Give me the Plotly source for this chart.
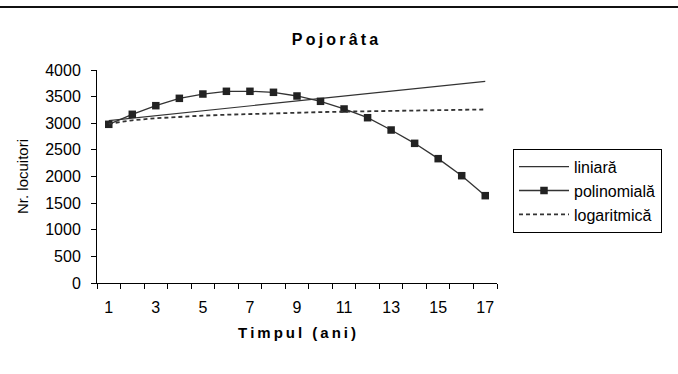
import plotly.graph_objects as go

years = list(range(1, 18))
x_labels = ["1", "3", "5", "7", "9", "11", "13", "15", "17"]
x_label_pos = [1, 3, 5, 7, 9, 11, 13, 15, 17]

liniara = [3050, 3096, 3142, 3188, 3234, 3280, 3326, 3372, 3418, 3464,
           3510, 3556, 3602, 3648, 3694, 3740, 3786]
polinomiala = [2980, 3168, 3330, 3468, 3549, 3600, 3600, 3581, 3512, 3412,
               3268, 3104, 2873, 2623, 2335, 2015, 1640]
logaritmica = [2990, 3056, 3094, 3122, 3143, 3160, 3175, 3188, 3199, 3209,
               3218, 3226, 3234, 3241, 3247, 3253, 3259]

y_ticks = [0, 500, 1000, 1500, 2000, 2500, 3000, 3500, 4000]

FONT = "Liberation Sans, Arial, sans-serif"
LINE = "#333333"
TS = "\u2009"


def spaced(s):
    return TS.join(s)


fig = go.Figure()
fig.add_trace(go.Scatter(x=years, y=liniara, mode="lines", name="liniară",
                         line=dict(color=LINE, width=1.2)))
fig.add_trace(go.Scatter(x=years, y=polinomiala, mode="lines+markers", name="polinomială",
                         line=dict(color=LINE, width=1.3),
                         marker=dict(symbol="square", size=7.5, color="#222222")))
fig.add_trace(go.Scatter(x=years, y=logaritmica, mode="lines", name="logaritmică",
                         line=dict(color=LINE, width=1.8, dash="4px,3px")))

boundaries = [v - 0.5 for v in years] + [years[-1] + 0.5]

fig.update_layout(
    width=678, height=374,
    margin=dict(l=97, r=181, t=70, b=91),
    paper_bgcolor="white", plot_bgcolor="white",
    font=dict(family=FONT, size=15, color="black"),
    title=dict(text="<b>" + spaced("Pojorâta") + "</b>", x=335 / 678, xanchor="center",
               xref="container", y=1 - 39 / 374, yanchor="middle",
               font=dict(size=16, family=FONT)),
    showlegend=True,
    legend=dict(x=1.04, xanchor="left", y=0.63, yanchor="top",
                bordercolor="black", borderwidth=1, bgcolor="white",
                font=dict(size=16, family=FONT), tracegroupgap=0,
                itemwidth=50),
    xaxis=dict(range=[0.5, 17.5], tickmode="array", tickvals=x_label_pos,
               ticktext=x_labels, ticks="", showgrid=False, zeroline=False,
               showline=True, linecolor="black", linewidth=1,
               tickfont=dict(size=16), ticklabelstandoff=10,
               minor=dict(tickmode="array", tickvals=boundaries, ticks="outside",
                          ticklen=5, tickcolor="black", showgrid=False),
               title=dict(text="<b>" + spaced("Timpul (ani)") + "</b>",
                          font=dict(size=15), standoff=12)),
    yaxis=dict(range=[0, 4000], tickmode="array", tickvals=y_ticks,
               ticks="outside", ticklen=5, tickcolor="black",
               showgrid=False, zeroline=False, showline=True,
               linecolor="black", linewidth=1, tickfont=dict(size=16),
               ticklabelstandoff=7,
               title=dict(text="Nr. locuitori", font=dict(size=15), standoff=12)),
    shapes=[dict(type="line", xref="paper", yref="paper",
                 x0=-97 / 400, x1=581 / 400, y0=1 + 63 / 213, y1=1 + 63 / 213,
                 line=dict(color="#111111", width=2))],
)

fig.write_html("out.html")
